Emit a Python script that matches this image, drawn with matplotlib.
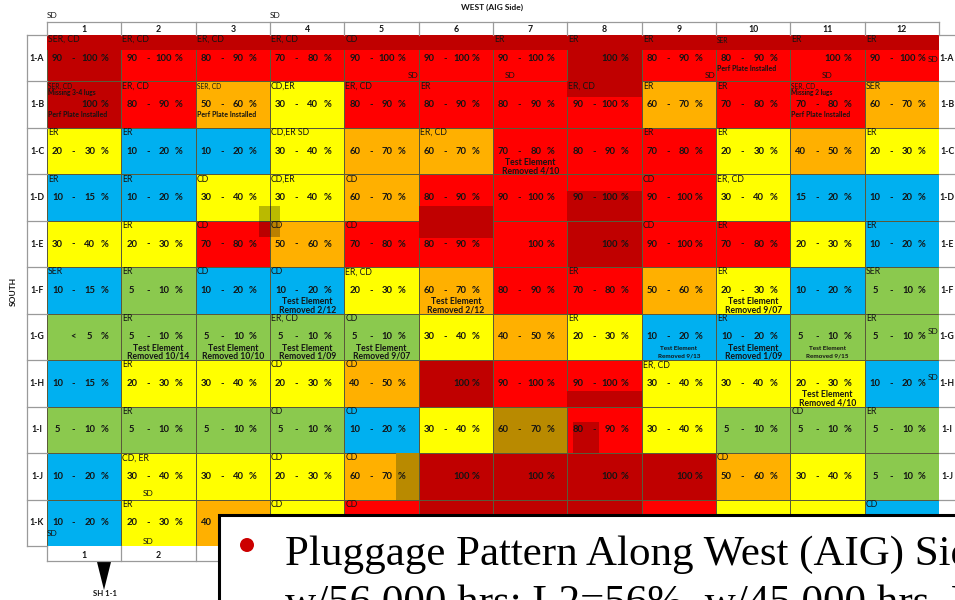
"""
Pluggage map of the west (AIG) side: 12 columns x 11 rows of percentage bands.
"""

import matplotlib
matplotlib.use('Agg')
import matplotlib.pyplot as plt
from matplotlib.colors import ListedColormap
from matplotlib.patches import Rectangle, Circle, Polygon
import numpy as np

ROWS = ['1-A', '1-B', '1-C', '1-D', '1-E', '1-F', '1-G', '1-H', '1-I', '1-J', '1-K']
COLS = ['1', '2', '3', '4', '5', '6', '7', '8', '9', '10', '11', '12']

# one letter per cell, see PALETTE
LEVELS = [
    'DRRRRRRDRRRR',
    'DROYRRRRORRO',
    'YBBYOORRRYOY',
    'BBYYORRRRYBB',
    'YYRORRRDRRYB',
    'BGBBYORROYBG',
    'GGGGGYOYBBGG',
    'BYYYODRRYYYB',
    'GGGGBYMRYGGG',
    'BYYYODDDDOYG',
    'BYOYRDDDRYYB',
]

VALUES = [
    ['90-100', '90-100', '80-90', '70-80', '90-100', '90-100', '90-100', '100', '80-90', '80-90', '100', '90-100'],
    ['100', '80-90', '50-60', '30-40', '80-90', '80-90', '80-90', '90-100', '60-70', '70-80', '70-80', '60-70'],
    ['20-30', '10-20', '10-20', '30-40', '60-70', '60-70', '70-80', '80-90', '70-80', '20-30', '40-50', '20-30'],
    ['10-15', '10-20', '30-40', '30-40', '60-70', '80-90', '90-100', '90-100', '90-100', '30-40', '15-20', '10-20'],
    ['30-40', '20-30', '70-80', '50-60', '70-80', '80-90', '100', '100', '90-100', '70-80', '20-30', '10-20'],
    ['10-15', '5-10', '10-20', '10-20', '20-30', '60-70', '80-90', '70-80', '50-60', '20-30', '10-20', '5-10'],
    ['<5', '5-10', '5-10', '5-10', '5-10', '30-40', '40-50', '20-30', '10-20', '10-20', '5-10', '5-10'],
    ['10-15', '20-30', '30-40', '20-30', '40-50', '100', '90-100', '90-100', '30-40', '30-40', '20-30', '10-20'],
    ['5-10', '5-10', '5-10', '5-10', '10-20', '30-40', '60-70', '80-90', '30-40', '5-10', '5-10', '5-10'],
    ['10-20', '30-40', '30-40', '20-30', '60-70', '100', '100', '100', '100', '50-60', '30-40', '5-10'],
    ['10-20', '20-30', '40-50', '', '', '', '', '', '', '', '', ''],
]

TAGS = [
    ['SER, CD', 'ER, CD', 'ER, CD', 'ER, CD', 'CD', '', 'ER', 'ER', 'ER', 'SER', 'ER', 'ER'],
    ['SER, CD', 'ER, CD', 'SER, CD', 'CD,ER', 'ER, CD', 'ER', '', 'ER, CD', 'ER', 'ER', 'SER, CD', 'SER'],
    ['ER', 'ER', '', 'CD,ER SD', '', 'ER, CD', '', '', 'ER', 'ER', '', 'ER'],
    ['ER', 'ER', 'CD', 'CD,ER', 'CD', '', '', '', 'CD', 'ER, CD', '', ''],
    ['', 'ER', 'CD', 'CD', 'CD', '', '', '', 'CD', 'ER', '', 'ER'],
    ['SER', 'ER', 'CD', 'CD', 'ER, CD', '', '', 'ER', '', 'ER', '', 'SER'],
    ['', 'ER', '', 'ER, CD', 'CD', '', '', 'ER', '', 'ER', '', 'ER'],
    ['', 'ER', '', 'CD', 'CD', '', '', '', 'ER, CD', '', '', ''],
    ['', 'ER', '', 'CD', 'CD', '', '', '', '', '', 'CD', 'ER'],
    ['', 'CD, ER', '', 'CD', 'CD', '', '', '', '', 'CD', '', ''],
    ['', 'ER', '', 'CD', 'CD', '', '', '', '', '', '', 'CD'],
]

REMOVED = {
    (2, 6): '4/10', (5, 3): '2/12', (5, 5): '2/12', (5, 9): '9/07',
    (6, 1): '10/14', (6, 2): '10/10', (6, 3): '1/09', (6, 4): '9/07',
    (6, 8): '9/13', (6, 9): '1/09', (6, 10): '9/15', (7, 10): '4/10',
}
SMALL_REMOVED = [(6, 8), (6, 10)]
SMALL_TAGS = [(0, 9), (1, 0), (1, 2), (1, 10)]
MISSING_LUGS = {(1, 0): 'Missing 3-4 lugs', (1, 10): 'Missing 2 lugs'}
PERF_PLATE = [(0, 9), (1, 0), (1, 2), (1, 10)]

PALETTE = {'D': '#C00000', 'R': '#FF0000', 'O': '#FFB000', 'Y': '#FFFF00',
           'B': '#00B0F0', 'G': '#8BC94E', 'M': '#B98A00'}

GRID_L, GRID_R, GRID_T, GRID_B = 47, 939, 35, 546
W, H = 955, 600
TEXT = '#141414'
FONT = 'Lato'

codes = list(PALETTE)
cell_idx = np.array([[codes.index(c) for c in row] for row in LEVELS])

fig = plt.figure(figsize=(W / 100, H / 100), dpi=100)

# cell axes, in row/column units
ax = fig.add_axes([GRID_L / W, 1 - GRID_B / H, (GRID_R - GRID_L) / W, (GRID_B - GRID_T) / H])
ax.pcolormesh(np.arange(len(COLS) + 1), np.arange(len(ROWS) + 1), cell_idx,
              cmap=ListedColormap(list(PALETTE.values())), vmin=0, vmax=len(codes) - 1,
              edgecolors='#5a5a3a', linewidth=0.4)
ax.set_xlim(0, len(COLS))
ax.set_ylim(len(ROWS), 0)
ax.axis('off')

# darker repair areas laid over the cells: col, row, width, height
for i in range(len(COLS)):
    ax.add_patch(Rectangle((i, 0), 1, 0.33, color=PALETTE['D'], lw=0))
for x0, y0, w, h in [(7, 1, 1, 0.33), (5, 3.68, 1, 0.32), (5, 4, 1, 0.37), (7, 3.35, 1, 0.65),
                     (7, 7.67, 1, 0.33), (7.07, 8.33, 0.36, 0.67)]:
    ax.add_patch(Rectangle((x0, y0), w, h, color=PALETTE['D'], lw=0))
ax.add_patch(Rectangle((4.7, 9), 0.3, 1, color=PALETTE['M'], lw=0))
ax.add_patch(Rectangle((2.85, 3.675), 0.285, 0.665, color='black', alpha=0.27, lw=0, zorder=3))

for r in range(len(ROWS)):
    for c in range(len(COLS)):
        val = VALUES[r][c]
        style = dict(ha='center', va='center', fontsize=6.8, color=TEXT, family=FONT, fontweight='bold')
        if val.startswith('<'):
            ax.text(c + 0.355, r + 0.5, '<', **style)
            ax.text(c + 0.575, r + 0.5, val[1:], **style)
            ax.text(c + 0.77, r + 0.5, '%', **style)
        elif val:
            parts = val.split('-')
            if len(parts) == 2:
                ax.text(c + 0.14, r + 0.5, parts[0], **style)
                ax.text(c + 0.355, r + 0.5, '-', **style)
            ax.text(c + 0.575, r + 0.5, parts[-1], **style)
            ax.text(c + 0.77, r + 0.5, '%', **style)
        if TAGS[r][c]:
            small = (r, c) in SMALL_TAGS
            ax.text(c + 0.015, r + (0.1 if not small else 0.11), TAGS[r][c], ha='left', va='center',
                    fontsize=4.8 if small else 6.3, color=TEXT, family=FONT)
        if (r, c) in MISSING_LUGS:
            ax.text(c + 0.015, r + 0.24, MISSING_LUGS[(r, c)], ha='left', va='center',
                    fontsize=4.8, color=TEXT, family=FONT, fontweight='bold')
        if (r, c) in PERF_PLATE:
            ax.text(c + 0.015, r + (0.72 if r else 0.73), 'Perf Plate Installed', ha='left', va='center',
                    fontsize=5, color=TEXT, family=FONT, fontweight='bold')
        if (r, c) in REMOVED:
            small = (r, c) in SMALL_REMOVED
            fs = 4.6 if small else 6.2
            ax.text(c + 0.5, r + 0.74, 'Test Element', ha='center', va='center',
                    fontsize=fs, color=TEXT, family=FONT, fontweight='bold')
            ax.text(c + 0.5, r + 0.92, 'Removed ' + REMOVED[(r, c)], ha='center', va='center',
                    fontsize=fs, color=TEXT, family=FONT, fontweight='bold')

# frame and callouts, in figure pixels
ov = fig.add_axes([0, 0, 1, 1], facecolor='none')
ov.set_xlim(0, W)
ov.set_ylim(H, 0)
ov.axis('off')

col_edges = np.linspace(GRID_L, GRID_R, len(COLS) + 1)
row_edges = np.linspace(GRID_T, GRID_B, len(ROWS) + 1)
LINE = dict(color='#9a9a9a', lw=0.9)
ov.plot([GRID_L, GRID_R], [22, 22], **LINE)
ov.plot([GRID_L, GRID_R], [561, 561], **LINE)
for x in col_edges:
    ov.plot([x, x], [22, GRID_T], **LINE)
    ov.plot([x, x], [GRID_B, 561], **LINE)
ov.plot([27, 27], [GRID_T, GRID_B], **LINE)
for y in row_edges:
    ov.plot([27, GRID_L], [y, y], **LINE)
    ov.plot([GRID_R, W], [y, y], **LINE)

for i, lab in enumerate(COLS):
    xc = (col_edges[i] + col_edges[i + 1]) / 2
    ov.text(xc, 29, lab, ha='center', va='center', fontsize=6.3, color=TEXT, family=FONT, fontweight='bold')
    ov.text(xc, 556, lab, ha='center', va='center', fontsize=6.3, color=TEXT, family=FONT, fontweight='bold')
for i, lab in enumerate(ROWS):
    yc = (row_edges[i] + row_edges[i + 1]) / 2
    ov.text(37, yc, lab, ha='center', va='center', fontsize=6.3, color=TEXT, family=FONT, fontweight='bold')
    ov.text(947, yc, lab, ha='center', va='center', fontsize=6.3, color=TEXT, family=FONT, fontweight='bold')

ov.text(492, 7, 'WEST (AIG Side)', ha='center', va='center', fontsize=6, color=TEXT, family=FONT, fontweight='bold')
ov.text(13, 291, 'SOUTH', rotation=90, ha='center', va='center', fontsize=6, color=TEXT, family=FONT, fontweight='bold')

for x, y in [(52, 16), (275, 16), (413, 76), (510, 76), (710, 76), (827, 76), (933, 60),
             (933, 331), (933, 378), (148, 494), (148, 541), (52, 533)]:
    ov.text(x, y, 'SD', ha='center', va='center', fontsize=6, color=TEXT, family=FONT)

ov.add_patch(Polygon([(97, 562), (111, 562), (104, 590)], closed=True, color='black', lw=0))
ov.text(105, 593, 'SH 1-1', ha='center', va='center', fontsize=5.6, color=TEXT, family=FONT, fontweight='bold')

ov.add_patch(Rectangle((218.5, 514.5), 760, 110, facecolor='white', edgecolor='black', lw=2.2, zorder=5))
ov.add_patch(Circle((247, 545), 7, color='#CC0000', lw=0, zorder=6))
ov.text(285, 565, 'Pluggage Pattern Along West (AIG) Side', ha='left', va='baseline', fontsize=31,
        family='Liberation Serif', color='black', zorder=6, clip_on=True)
ov.text(285, 614, 'w/56,000 hrs: L2=56%, w/45,000 hrs, L', ha='left', va='baseline', fontsize=31,
        family='Liberation Serif', color='black', zorder=6, clip_on=True)

fig.savefig('out.png', dpi=100)
